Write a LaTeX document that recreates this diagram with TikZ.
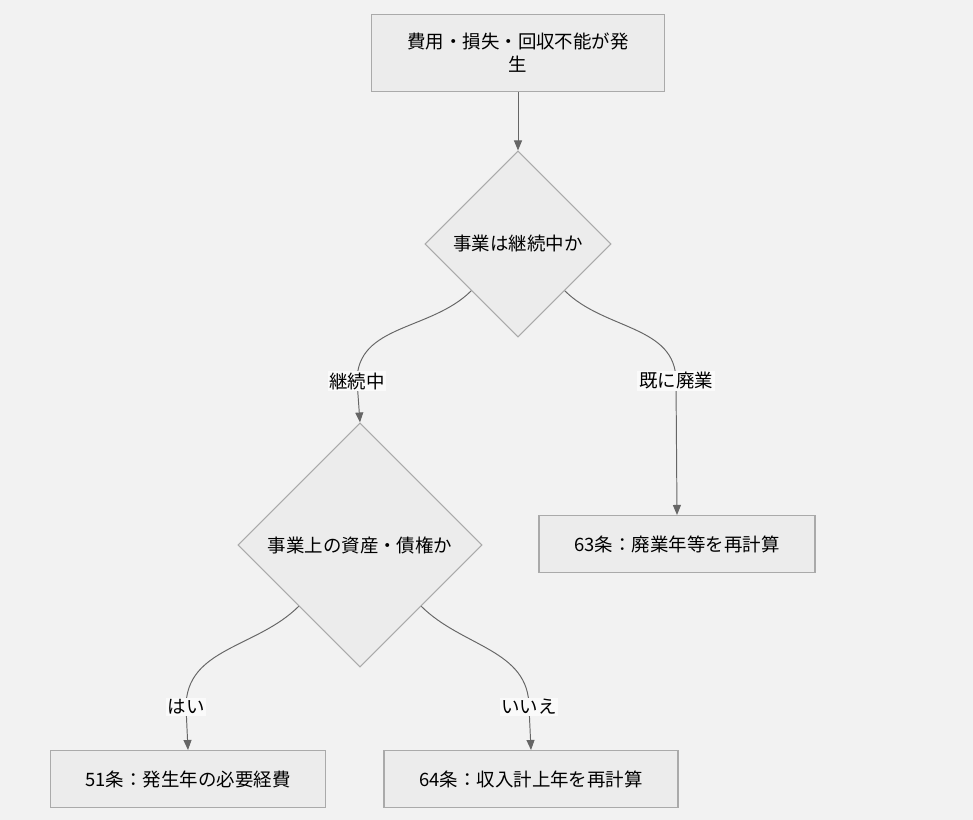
\documentclass[tikz,border=0pt]{standalone}
\usepackage{fontspec}
\setmainfont{Noto Sans CJK JP}
\usetikzlibrary{shapes.geometric,arrows.meta}
\definecolor{bggray}{RGB}{242,242,242}
\definecolor{boxfill}{RGB}{236,236,236}
\definecolor{boxline}{RGB}{170,170,170}
\definecolor{edgegray}{RGB}{102,102,102}
\definecolor{lblfill}{RGB}{250,250,250}
\begin{document}
\begin{tikzpicture}
[font=\fontsize{10.5}{13}\selectfont,
box/.style={draw=boxline,fill=boxfill,line width=0.6pt,minimum height=1.14cm,align=center},
ask/.style={diamond,draw=boxline,fill=boxfill,line width=0.6pt,inner sep=0pt,aspect=1},
flow/.style={draw=edgegray,line width=0.55pt,-{Triangle[length=0.2cm,width=0.16cm]}},
lbl/.style={fill=lblfill,inner sep=1pt}]
\fill[bggray] (0,0) rectangle (19.46,-16.4);

\node[box,minimum width=5.86cm,minimum height=1.54cm] (start) at (10.36,-1.06) {費用・損失・回収不能が発\\生};
\node[ask,minimum width=3.72cm,minimum height=3.72cm] (cont) at (10.36,-4.88) {事業は継続中か};
\node[ask,minimum width=4.88cm,minimum height=4.88cm] (asset) at (7.2,-10.9) {事業上の資産・債権か};
\node[box,minimum width=5.52cm] (a63) at (13.54,-10.88) {63条：廃業年等を再計算};
\node[box,minimum width=5.5cm] (a51) at (3.76,-15.58) {51条：発生年の必要経費};
\node[box,minimum width=5.88cm] (a64) at (10.62,-15.58) {64条：収入計上年を再計算};

\coordinate (c1) at (7.14,-7.62);
\coordinate (c2) at (13.52,-7.62);
\coordinate (c3) at (3.72,-14.14);
\coordinate (c4) at (10.58,-14.14);

\draw[flow] (start) -- (cont);
\draw[flow] (cont.south west) to[out=-135,in=90] (c1) -- (asset.north);
\draw[flow] (cont.south east) to[out=-45,in=90] (c2) -- (a63.north);
\draw[flow] (asset.south west) to[out=-135,in=90] (c3) -- (a51.north);
\draw[flow] (asset.south east) to[out=-45,in=90] (c4) -- (a64.north);

\node[lbl] (l1) at (c1) {継続中};
\node[lbl] (l2) at (c2) {既に廃業};
\node[lbl] (l3) at (c3) {はい};
\node[lbl] (l4) at (c4) {いいえ};
\end{tikzpicture}
\end{document}
